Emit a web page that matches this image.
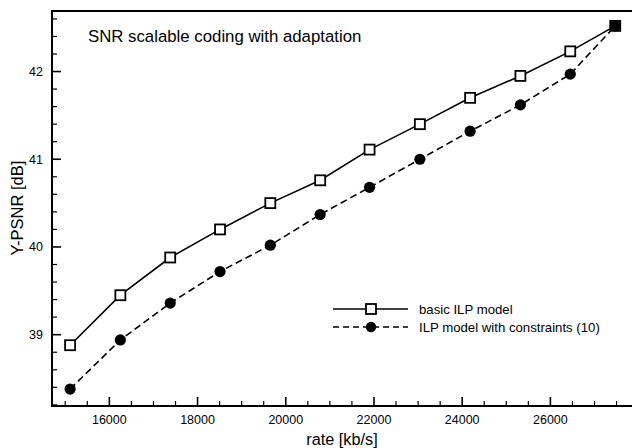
<!DOCTYPE html>
<html>
<head>
<meta charset="utf-8">
<script src="https://cdn.jsdelivr.net/npm/d3@7"></script>
<style>
  body { margin: 0; background: #fff; }
  text { font-family: 'Liberation Sans', Arial, Helvetica, sans-serif; fill: #000; }
</style>
</head>
<body>
<div id="chart"></div>
<script>
// rate in kb/s for each coding point
let rates = [15110, 16250, 17380, 18510, 19650, 20780, 21900, 23040, 24180, 25320, 26450, 27470]
// Y-PSNR in dB
let basicPsnr = [38.88, 39.45, 39.88, 40.2, 40.5, 40.76, 41.11, 41.4, 41.7, 41.95, 42.23, 42.52]
let constrainedPsnr = [38.38, 38.94, 39.36, 39.72, 40.02, 40.37, 40.68, 41.0, 41.32, 41.62, 41.97, 42.52]

let seriesNames = ['basic ILP model', 'ILP model with constraints (10)']
let xMajorTicks = [16000, 18000, 20000, 22000, 24000, 26000]
let yMajorTicks = [39, 40, 41, 42]

let width = 632
let height = 448
let margin = { top: 11, left: 52, right: 0, bottom: 42 }

let svg = d3
  .select('#chart')
  .append('svg')
  .attr('width', width)
  .attr('height', height)

let xPositionScale = d3
  .scaleLinear()
  .domain([14700, 27850])
  .range([margin.left, width - margin.right])
let yPositionScale = d3
  .scaleLinear()
  .domain([38.187, 42.69])
  .range([height - margin.bottom, margin.top])

let x0 = margin.left
let y0 = height - margin.bottom

// minor ticks
let xMinor = d3.range(15000, 27600, 500).filter(d => xMajorTicks.indexOf(d) === -1)
let yMinor = d3.range(38.2, 42.65, 0.2).filter(d => Math.abs(d - Math.round(d)) > 0.01)

svg
  .selectAll('.x-minor')
  .data(xMinor)
  .enter()
  .append('line')
  .attr('x1', d => xPositionScale(d))
  .attr('x2', d => xPositionScale(d))
  .attr('y1', y0)
  .attr('y2', y0 - 5)
  .attr('stroke', '#000')
  .attr('stroke-width', 1.2)

svg
  .selectAll('.x-major')
  .data(xMajorTicks)
  .enter()
  .append('line')
  .attr('x1', d => xPositionScale(d))
  .attr('x2', d => xPositionScale(d))
  .attr('y1', y0)
  .attr('y2', y0 - 9)
  .attr('stroke', '#000')
  .attr('stroke-width', 1.6)

svg
  .selectAll('.x-label')
  .data(xMajorTicks)
  .enter()
  .append('text')
  .attr('x', d => xPositionScale(d))
  .attr('y', y0 + 18)
  .attr('text-anchor', 'middle')
  .attr('font-size', 12.5)
  .text(d => d)

svg
  .selectAll('.y-minor')
  .data(yMinor)
  .enter()
  .append('line')
  .attr('x1', x0)
  .attr('x2', x0 + 5)
  .attr('y1', d => yPositionScale(d))
  .attr('y2', d => yPositionScale(d))
  .attr('stroke', '#000')
  .attr('stroke-width', 1.2)

svg
  .selectAll('.y-major')
  .data(yMajorTicks)
  .enter()
  .append('line')
  .attr('x1', x0)
  .attr('x2', x0 + 9)
  .attr('y1', d => yPositionScale(d))
  .attr('y2', d => yPositionScale(d))
  .attr('stroke', '#000')
  .attr('stroke-width', 1.6)

svg
  .selectAll('.y-label')
  .data(yMajorTicks)
  .enter()
  .append('text')
  .attr('x', x0 - 9)
  .attr('y', d => yPositionScale(d))
  .attr('dy', '0.35em')
  .attr('text-anchor', 'end')
  .attr('font-size', 12.5)
  .text(d => d)

// frame: left, top, bottom
svg
  .append('path')
  .attr('d', `M${width},${margin.top}H${x0}V${y0}H${width}`)
  .attr('fill', 'none')
  .attr('stroke', '#000')
  .attr('stroke-width', 2)

svg
  .append('text')
  .attr('x', 342)
  .attr('y', 445)
  .attr('text-anchor', 'middle')
  .attr('font-size', 16.3)
  .text('rate [kb/s]')

svg
  .append('text')
  .attr('transform', 'translate(23, 208) rotate(-90)')
  .attr('text-anchor', 'middle')
  .attr('font-size', 16.5)
  .text('Y-PSNR [dB]')

svg
  .append('text')
  .attr('x', 88)
  .attr('y', 42)
  .attr('font-size', 16.8)
  .text('SNR scalable coding with adaptation')

let basic = rates.map((r, i) => ({ rate: r, psnr: basicPsnr[i] }))
let constrained = rates.map((r, i) => ({ rate: r, psnr: constrainedPsnr[i] }))

let line = d3
  .line()
  .x(d => xPositionScale(d.rate))
  .y(d => yPositionScale(d.psnr))

svg
  .append('path')
  .attr('d', line(basic))
  .attr('fill', 'none')
  .attr('stroke', '#000')
  .attr('stroke-width', 1.6)

svg
  .append('path')
  .attr('d', line(constrained))
  .attr('fill', 'none')
  .attr('stroke', '#000')
  .attr('stroke-width', 1.6)
  .attr('stroke-dasharray', '7,4')

let sq = 10

svg
  .selectAll('.basic-point')
  .data(basic)
  .enter()
  .append('rect')
  .attr('x', d => xPositionScale(d.rate) - sq / 2)
  .attr('y', d => yPositionScale(d.psnr) - sq / 2)
  .attr('width', sq)
  .attr('height', sq)
  .attr('fill', '#fff')
  .attr('stroke', '#000')
  .attr('stroke-width', 1.8)

svg
  .selectAll('.constrained-point')
  .data(constrained)
  .enter()
  .append('circle')
  .attr('cx', d => xPositionScale(d.rate))
  .attr('cy', d => yPositionScale(d.psnr))
  .attr('r', 5.6)
  .attr('fill', '#000')

// legend
let legend = svg.append('g').attr('transform', 'translate(333, 309)')

legend
  .append('line')
  .attr('x1', 0)
  .attr('x2', 75)
  .attr('stroke', '#000')
  .attr('stroke-width', 1.6)
legend
  .append('rect')
  .attr('x', 38 - sq / 2)
  .attr('y', -sq / 2)
  .attr('width', sq)
  .attr('height', sq)
  .attr('fill', '#fff')
  .attr('stroke', '#000')
  .attr('stroke-width', 1.8)
legend
  .append('text')
  .attr('x', 86)
  .attr('y', 0)
  .attr('dy', '0.35em')
  .attr('font-size', 13.2)
  .text(seriesNames[0])

legend
  .append('line')
  .attr('x1', 0)
  .attr('x2', 75)
  .attr('y1', 18)
  .attr('y2', 18)
  .attr('stroke', '#000')
  .attr('stroke-width', 1.6)
  .attr('stroke-dasharray', '6,4')
legend
  .append('circle')
  .attr('cx', 38)
  .attr('cy', 18)
  .attr('r', 5.2)
  .attr('fill', '#000')
legend
  .append('text')
  .attr('x', 86)
  .attr('y', 18)
  .attr('dy', '0.35em')
  .attr('font-size', 13.2)
  .text(seriesNames[1])
</script>
</body>
</html>
